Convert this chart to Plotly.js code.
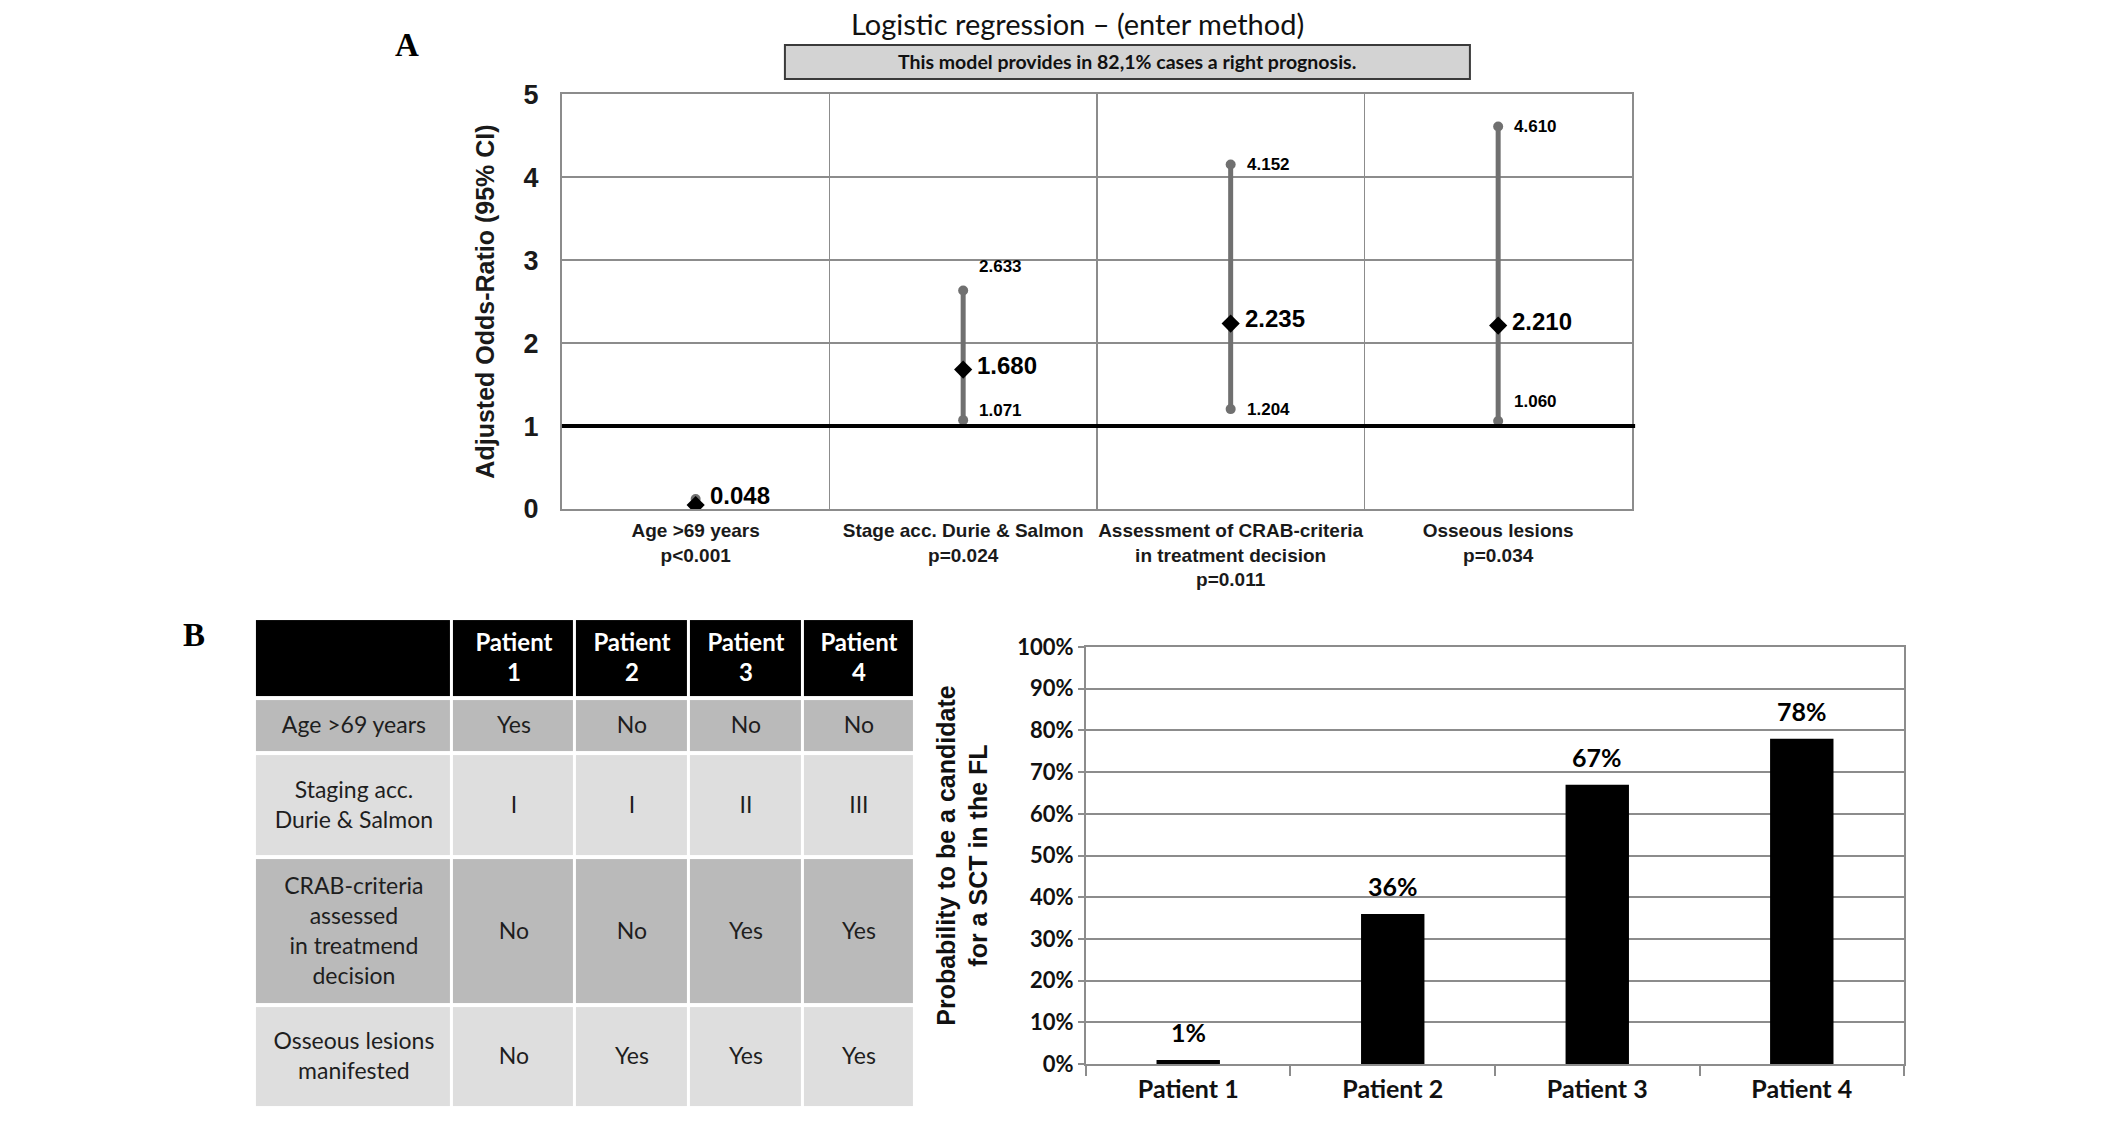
<!DOCTYPE html>
<html><head><meta charset="utf-8">
<script src="https://cdn.plot.ly/plotly-3.0.1.min.js"></script>
<style>html,body{margin:0;padding:0;background:#fff}</style>
</head><body><div id="chart" style="width:2126px;height:1121px"></div>
<script>
// ---------- Panel A data ----------
const factors = ['Age &gt;69 years', 'Stage acc. Durie & Salmon', 'Assessment of CRAB-criteria<br>in treatment decision', 'Osseous lesions'];
const pValues = ['p&lt;0.001', 'p=0.024', 'p=0.011', 'p=0.034'];
const oddsRatio = [0.048, 1.680, 2.235, 2.210];
const ciLower = [0.015, 1.071, 1.204, 1.060];
const ciUpper = [0.120, 2.633, 4.152, 4.610];
const showCiLabel = [false, true, true, true];

// ---------- Panel B data ----------
const patients = ['Patient 1', 'Patient 2', 'Patient 3', 'Patient 4'];
const probability = [0.01, 0.36, 0.67, 0.78];
const tableRowLabels = ['Age &gt;69 years', 'Staging acc.<br>Durie & Salmon', 'CRAB-criteria<br>assessed<br>in treatmend<br>decision', 'Osseous lesions<br>manifested'];
const ageRow = ['Yes', 'No', 'No', 'No'];
const stagingRow = ['I', 'I', 'II', 'III'];
const crabRow = ['No', 'No', 'Yes', 'Yes'];
const osseousRow = ['No', 'Yes', 'Yes', 'Yes'];

// ---------- styles ----------
const SANS = 'Liberation Sans, Arial, sans-serif';
const CAL = 'Lato, Open Sans, sans-serif';
const SERIF = 'Liberation Serif, Times New Roman, serif';
const GRID = '#8c8c8c';
const hiShift = [0, 24, 0, 0];
const loShift = [0, 10, 0, 20];
const orShift = [10, 4, 5, 4];
const colWidths = [197, 123, 114, 114, 112];
const rowHeights = [80, 54, 104, 147, 103];
const rowShade = [0, 1, 2, 1, 2];

const xCats = factors.map((f, i) => f + '<br>' + pValues[i]);

// CI segments
const ciX = [], ciY = [];
xCats.forEach((c, i) => { ciX.push(c, c, null); ciY.push(ciLower[i], ciUpper[i], null); });

const traces = [];
traces.push({
  type: 'scatter', mode: 'lines+markers', x: ciX, y: ciY, xaxis: 'x', yaxis: 'y',
  line: {color: '#707070', width: 5}, marker: {symbol: 'circle', size: 10, color: '#707070'},
  hoverinfo: 'skip', showlegend: false, connectgaps: false
});
traces.push({
  type: 'scatter', mode: 'markers', x: xCats, y: oddsRatio, xaxis: 'x', yaxis: 'y',
  marker: {symbol: 'diamond', size: 14, color: '#000'}, showlegend: false
});

// Table as heatmap with uneven bricks
const cum = a => a.reduce((acc, v) => { acc.push(acc[acc.length - 1] + v); return acc; }, [0]);
const xEdges = cum(colWidths), yEdges = cum(rowHeights);
const bodyRows = [ageRow, stagingRow, crabRow, osseousRow];
const tText = [[''].concat(patients.map(p => '<span style="color:#ffffff;font-size:24px"><b>' + p.replace(' ', '<br>') + '</b></span>'))];
bodyRows.forEach((r, i) => tText.push([tableRowLabels[i]].concat(r)));
const tZ = rowShade.map(s => colWidths.map(() => s));
traces.push({
  type: 'heatmap', x: xEdges, y: yEdges, z: tZ, text: tText, texttemplate: '%{text}',
  textfont: {family: CAL, size: 23, color: '#1e1e1e'},
  xaxis: 'x2', yaxis: 'y2', zmin: 0, zmax: 2, showscale: false, hoverinfo: 'skip',
  colorscale: [[0, '#000000'], [0.5, '#bababa'], [1, '#dedede']], xgap: 3, ygap: 4
});

// Bar chart
traces.push({
  type: 'bar', x: patients, y: probability, xaxis: 'x3', yaxis: 'y3', width: 0.31,
  marker: {color: '#000'}, showlegend: false
});

const annotations = [];
const pAnn = (x, y, text, font) => annotations.push({xref: 'paper', yref: 'paper', x: x, y: y, text: text,
  showarrow: false, xanchor: 'center', yanchor: 'middle', font: font});
pAnn(0.1914, 0.96, '<b>A</b>', {family: SERIF, size: 33, color: '#000'});
pAnn(0.0913, 0.4335, '<b>B</b>', {family: SERIF, size: 33, color: '#000'});
pAnn(0.507, 0.979, 'Logistic regression \u2013 (enter method)', {family: CAL, size: 29, color: '#111'});
pAnn(0.5301, 0.9447, '<b>This model provides in 82,1% cases a right prognosis.</b>', {family: CAL, size: 19.5, color: '#111'});
// OR labels
oddsRatio.forEach((v, i) => annotations.push({xref: 'x', yref: 'y', x: i, y: v, text: '<b>' + v.toFixed(3) + '</b>',
  showarrow: false, xanchor: 'left', yanchor: 'middle', xshift: 12, yshift: orShift[i], font: {family: SANS, size: 24, color: '#000'}}));
// CI labels
ciUpper.forEach((v, i) => { if (showCiLabel[i]) annotations.push({xref: 'x', yref: 'y', x: i, y: v, text: '<b>' + v.toFixed(3) + '</b>',
  showarrow: false, xanchor: 'left', yanchor: 'middle', xshift: 14, yshift: hiShift[i], font: {family: SANS, size: 17, color: '#000'}}); });
ciLower.forEach((v, i) => { if (showCiLabel[i]) annotations.push({xref: 'x', yref: 'y', x: i, y: v, text: '<b>' + v.toFixed(3) + '</b>',
  showarrow: false, xanchor: 'left', yanchor: 'middle', xshift: 14, yshift: loShift[i], font: {family: SANS, size: 17, color: '#000'}}); });
// Bar labels
probability.forEach((v, i) => annotations.push({xref: 'x3', yref: 'y3', x: i, y: v, text: '<b>' + Math.round(v * 100) + '%</b>',
  showarrow: false, xanchor: 'center', yanchor: 'bottom', yshift: 11, font: {family: CAL, size: 25, color: '#000'}}));

const layout = {
  width: 2126, height: 1121, margin: {l: 0, r: 0, t: 0, b: 0},
  paper_bgcolor: '#fff', plot_bgcolor: '#fff', showlegend: false,
  xaxis: {domain: [0.2643, 0.7676], anchor: 'y', type: 'category', range: [-0.5, 3.5], tickson: 'boundaries', ticks: '',
    tickangle: 0, showgrid: true, gridcolor: GRID, gridwidth: 1.5, showline: true, linecolor: GRID, linewidth: 2, mirror: true,
    ticklabelstandoff: 3,
    tickfont: {family: SANS, size: 19, color: '#1a1a1a', weight: 'bold'}, automargin: false, fixedrange: true},
  yaxis: {domain: [0.5459, 0.9161], anchor: 'x', range: [0, 5], dtick: 1, showgrid: true, gridcolor: GRID, gridwidth: 1.5,
    showline: true, linecolor: GRID, linewidth: 2, mirror: true, zeroline: false, ticklabelstandoff: 16,
    tickfont: {family: SANS, size: 27, color: '#1a1a1a', weight: 'bold'}, automargin: false,
    title: {text: 'Adjusted Odds-Ratio (95% CI)', standoff: 22, font: {family: SANS, size: 25, color: '#1a1a1a', weight: 'bold'}}},
  xaxis2: {domain: [0.1199, 0.4304], anchor: 'y2', range: [0, xEdges[xEdges.length - 1]], visible: false, fixedrange: true},
  yaxis2: {domain: [0.0116, 0.4487], anchor: 'x2', range: [yEdges[yEdges.length - 1], 0], visible: false, fixedrange: true},
  xaxis3: {domain: [0.5108, 0.8956], anchor: 'y3', type: 'category', tickson: 'boundaries', ticks: 'outside', ticklen: 10,
    tickcolor: GRID, tickwidth: 2, showgrid: false, showline: true, linecolor: GRID, linewidth: 2, mirror: true, tickangle: 0,
    ticklabelstandoff: 2,
    tickfont: {family: CAL, size: 25, color: '#111', weight: 'bold'}, automargin: false},
  yaxis3: {domain: [0.0508, 0.4228], anchor: 'x3', range: [0, 1], dtick: 0.1, tickformat: '.0%', showgrid: true, gridcolor: GRID,
    gridwidth: 2, showline: true, linecolor: GRID, linewidth: 2, mirror: true, zeroline: false, ticks: 'outside',
    ticklen: 6, tickcolor: GRID, tickwidth: 2,
    tickfont: {family: CAL, size: 22, color: '#111', weight: 'bold'}, automargin: false,
    title: {text: 'Probability to be a candidate<br>for a SCT in the FL', standoff: 22, font: {family: SANS, size: 25, color: '#111', weight: 'bold'}}},
  shapes: [
    {type: 'rect', xref: 'paper', yref: 'paper', x0: 0.3692, x1: 0.6914, y0: 0.9295, y1: 0.9599,
      fillcolor: '#d3d3d3', line: {color: '#3a3a3a', width: 2}, layer: 'below'},
    {type: 'line', xref: 'x domain', yref: 'y', x0: 0, x1: 1.003, y0: 1, y1: 1, line: {color: '#000', width: 4}, layer: 'above'}
  ],
  annotations: annotations
};

Plotly.newPlot('chart', traces, layout, {staticPlot: true});
</script></body></html>
